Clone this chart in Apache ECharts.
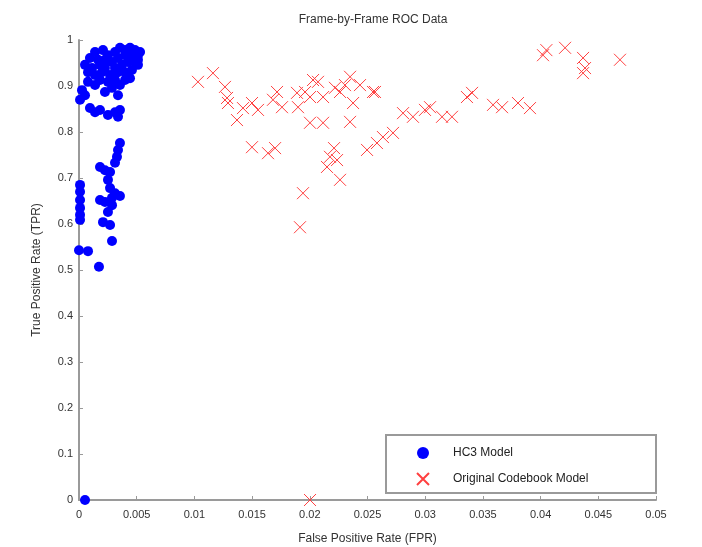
<!DOCTYPE html>
<html>
<head>
<meta charset="utf-8">
<script src="https://cdn.jsdelivr.net/npm/echarts@6/dist/echarts.min.js"></script>
<style>html,body{margin:0;padding:0;background:#fff}#c{width:702px;height:547px}</style>
</head>
<body>
<div id="c"></div>
<script>
const xTicks = [0,0.005,0.01,0.015,0.02,0.025,0.03,0.035,0.04,0.045,0.05];
const yTicks = [0,0.1,0.2,0.3,0.4,0.5,0.6,0.7,0.8,0.9,1];

const hc3FPR = [0.00139,0.00208,0.00251,0.00312,0.00355,0.00399,0.00442,0.00485,0.00511,0.00529,
  0.00459,0.00399,0.00338,0.00286,0.00425,0.00485,0.00511,0.00373,0.00312,0.00225,
  0.00182,0.00113,0.00052,0.00078,0.00139,0.00199,0.00269,0.00338,0.00399,0.00459,
  0.00182,0.00251,0.00312,0.00355,0.00286,0.00225,0.00338,0.00026,0.00052,0.00009,
  0.00095,0.00139,0.00182,0.00251,0.00312,0.00355,0.00338,
  0.00355,0.00338,0.00329,0.00312,0.00182,0.00225,0.00269,0.00251,0.00269,0.00312,
  0.00355,0.00225,0.00286,0.00251,0.00208,0.00269,0.00286,0.00182,
  0.00009,0.00009,0.00009,0.00009,0.00009,0.00009,
  0.00286,0.00000,0.00078,0.00173,0.00052,
  0.00095,0.00165,0.00225,0.00442,0.00511,0.00399,0.00442,0.00139,0.00078];
const hc3TPR = [0.974,0.978,0.967,0.974,0.983,0.978,0.983,0.978,0.967,0.974,
  0.961,0.967,0.961,0.952,0.952,0.952,0.946,0.946,0.939,0.939,
  0.946,0.939,0.946,0.930,0.924,0.930,0.924,0.930,0.930,0.935,
  0.913,0.909,0.913,0.902,0.896,0.887,0.880,0.891,0.880,0.870,
  0.852,0.843,0.848,0.837,0.843,0.848,0.833,
  0.776,0.761,0.746,0.733,0.724,0.717,0.713,0.696,0.678,0.667,
  0.661,0.648,0.641,0.626,0.604,0.598,0.657,0.652,
  0.685,0.670,0.652,0.635,0.620,0.609,
  0.563,0.543,0.541,0.507,0.0,
  0.961,0.957,0.957,0.967,0.957,0.913,0.917,0.902,0.909];

const cbFPR = [0.01031,0.01161,0.01265,0.01283,0.01291,0.01369,0.01421,0.01499,0.01551,0.01681,
  0.01716,0.01759,0.01889,0.01898,0.01959,0.02028,0.02002,0.01499,0.01638,0.01699,
  0.02071,0.02115,0.02002,0.02262,0.02349,0.02375,0.02548,0.02349,0.02115,0.02218,
  0.02305,0.02435,0.02175,0.02236,0.02149,0.02262,0.02210,0.02496,0.02634,0.02721,
  0.02565,0.02582,0.02808,0.02894,0.02998,0.03042,0.03146,0.03232,0.03362,0.03406,
  0.03588,0.03666,0.03804,0.03908,0.04021,0.04050,0.04212,0.04368,0.04385,0.04368,
  0.04688,0.01941,0.01915,0.02002];
const cbTPR = [0.909,0.928,0.898,0.874,0.863,0.826,0.852,0.863,0.848,0.870,
  0.887,0.854,0.885,0.854,0.887,0.913,0.820,0.767,0.754,0.765,
  0.909,0.876,0.876,0.887,0.920,0.863,0.887,0.822,0.820,0.896,
  0.902,0.902,0.746,0.739,0.724,0.696,0.765,0.761,0.789,0.798,
  0.887,0.776,0.841,0.833,0.848,0.854,0.833,0.833,0.876,0.885,
  0.859,0.854,0.863,0.852,0.967,0.978,0.983,0.961,0.939,0.928,
  0.957,0.667,0.593,0.0];

const zip = (a, b) => a.map((v, i) => [v, b[i]]);
const fmt = v => String(+v.toFixed(3));
const font = 'Liberation Sans';

const chart = echarts.init(document.getElementById('c'), null, {renderer: 'canvas'});
chart.setOption({
  animation: false,
  backgroundColor: '#fff',
  title: {
    text: 'Frame-by-Frame ROC Data',
    left: 368, top: 9, textAlign: 'center',
    textStyle: {fontFamily: font, fontSize: 12, fontWeight: 'normal', color: '#333'}
  },
  grid: {left: 79, right: 46, top: 40, bottom: 47, containLabel: false, outerBoundsMode: 'none'},
  xAxis: {
    type: 'value', min: xTicks[0], max: xTicks[xTicks.length - 1], interval: xTicks[1] - xTicks[0],
    name: 'False Positive Rate (FPR)', nameLocation: 'middle', nameGap: 33,
    nameTextStyle: {fontFamily: font, fontSize: 12, color: '#333'},
    axisLine: {lineStyle: {color: '#9a9a9a', width: 2}},
    axisTick: {inside: true, length: 4, lineStyle: {color: '#9a9a9a'}},
    axisLabel: {formatter: fmt, fontFamily: font, fontSize: 11, color: '#333', margin: 9},
    splitLine: {show: false}
  },
  yAxis: {
    type: 'value', min: yTicks[0], max: yTicks[yTicks.length - 1], interval: yTicks[1] - yTicks[0],
    name: 'True Positive Rate (TPR)', nameLocation: 'middle', nameGap: 36,
    nameTextStyle: {fontFamily: font, fontSize: 12, color: '#333'},
    axisLine: {show: true, lineStyle: {color: '#9a9a9a', width: 2}},
    axisTick: {show: true, inside: true, length: 4, lineStyle: {color: '#9a9a9a'}},
    axisLabel: {formatter: fmt, fontFamily: font, fontSize: 11, color: '#333', margin: 6},
    splitLine: {show: false}
  },
  legend: {
    orient: 'vertical', left: 416, top: 447, padding: 0,
    itemWidth: 50, itemHeight: 12, itemGap: 13,
    textStyle: {fontFamily: font, fontSize: 12, color: '#222'},
    data: ['HC3 Model', 'Original Codebook Model']
  },
  graphic: [{
    type: 'rect', left: 385, top: 434, z: 1,
    shape: {width: 270, height: 58},
    style: {fill: '#fff', stroke: '#9a9a9a', lineWidth: 2}
  }],
  series: [
    {
      name: 'HC3 Model', type: 'scatter', symbol: 'circle', symbolSize: 10,
      itemStyle: {color: '#0000ff', opacity: 1},
      data: zip(hc3FPR, hc3TPR), z: 3
    },
    {
      name: 'Original Codebook Model', type: 'scatter',
      symbol: 'path://M0 0L10 10M10 0L0 10', symbolSize: 12,
      itemStyle: {color: 'rgba(0,0,0,0)', borderColor: '#ff4040', borderWidth: 1, opacity: 1},
      data: zip(cbFPR, cbTPR), z: 2
    }
  ]
});
</script>
</body>
</html>
